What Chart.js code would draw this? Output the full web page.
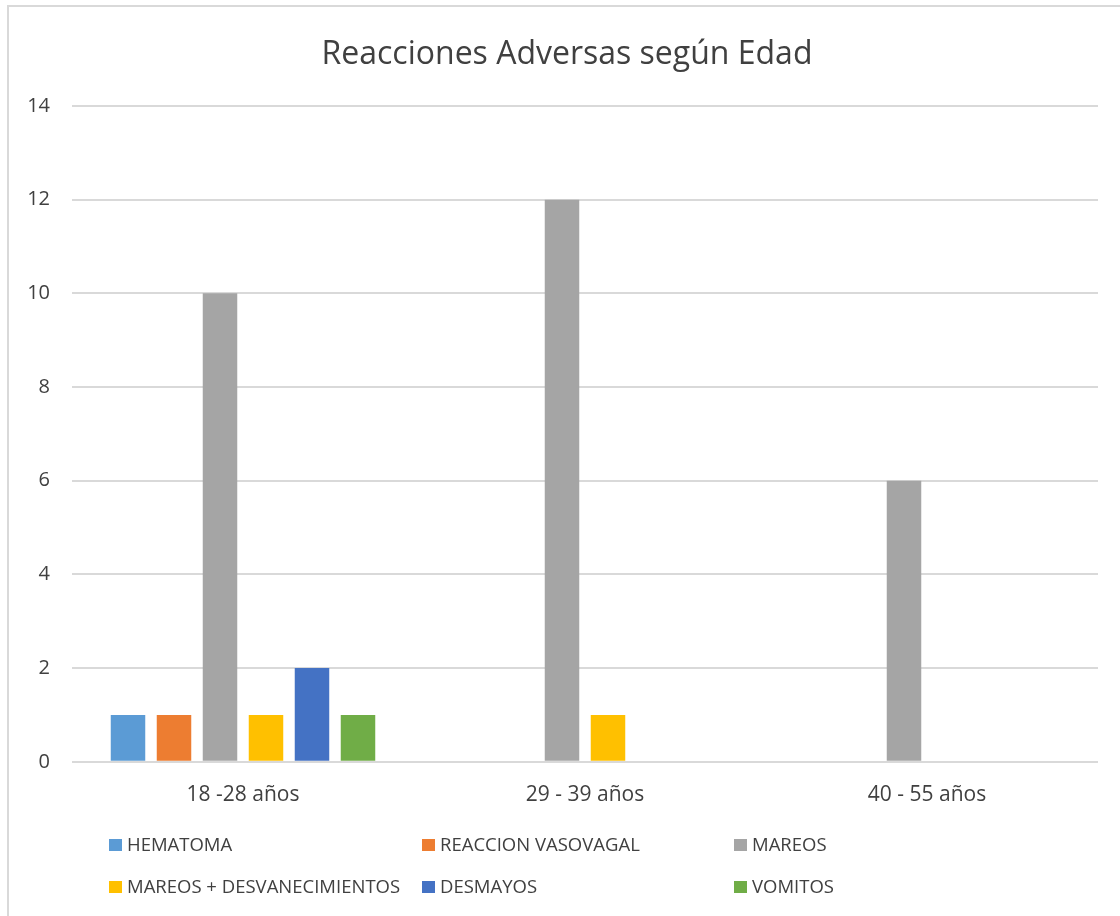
<!DOCTYPE html>
<html>
<head>
<meta charset="utf-8">
<title>Reacciones Adversas según Edad</title>
<script src="https://cdn.jsdelivr.net/npm/chart.js@4.4.1/dist/chart.umd.min.js"></script>
<style>
  html, body { margin: 0; padding: 0; background: #ffffff; overflow: hidden; }
  #frame {
    position: absolute; left: 7px; top: 5px;
    width: 1200px; height: 1000px;
    border: 2px solid #d9d9d9; box-sizing: border-box;
  }
  #chart { position: absolute; left: 0; top: 0; }
</style>
</head>
<body>
<div id="frame"></div>
<canvas id="chart" width="1120" height="916"></canvas>
<script>
// Age groups on the x axis
const categories = ['18 -28 años', '29 - 39 años', '40 - 55 años'];

// Number of adverse reactions per age group
const hematoma          = [1, 0, 0];
const reaccionVasovagal = [1, 0, 0];
const mareos            = [10, 12, 6];
const mareosDesvanec    = [1, 1, 0];
const desmayos          = [2, 0, 0];
const vomitos           = [1, 0, 0];

const seriesLabels = ['HEMATOMA', 'REACCION VASOVAGAL', 'MAREOS',
                      'MAREOS + DESVANECIMIENTOS', 'DESMAYOS', 'VOMITOS'];
const seriesValues = [hematoma, reaccionVasovagal, mareos, mareosDesvanec, desmayos, vomitos];
const seriesColors = ['#5B9BD5', '#ED7D31', '#A5A5A5', '#FFC000', '#4472C4', '#70AD47'];

const chartTitle = 'Reacciones Adversas según Edad';

// Y axis range
const yMin = 0, yMax = 14, yStep = 2;

const FONT = "'Open Sans', 'Noto Sans', sans-serif";
const TEXT = '#404040';

// Title centred over the chart frame rather than the plot
const frameTitle = {
  id: 'frameTitle',
  afterDraw(chart) {
    const ctx = chart.ctx;
    ctx.save();
    ctx.font = '32px ' + FONT;
    ctx.fillStyle = TEXT;
    ctx.textAlign = 'center';
    ctx.textBaseline = 'middle';
    ctx.fillText(chartTitle, 567, 55);
    ctx.restore();
  }
};

// Legend laid out as a 3-column grid under the axis
const gridLegend = {
  id: 'gridLegend',
  afterDraw(chart) {
    const ctx = chart.ctx;
    const colX = [109, 422, 734];
    const rowY = [845, 887];
    ctx.save();
    ctx.font = '18.5px ' + FONT;
    ctx.textBaseline = 'middle';
    ctx.textAlign = 'left';
    chart.data.datasets.forEach((ds, i) => {
      const x = colX[i % 3];
      const y = rowY[Math.floor(i / 3)];
      ctx.fillStyle = ds.backgroundColor;
      ctx.fillRect(x, y - 6, 13, 12);
      ctx.fillStyle = TEXT;
      ctx.fillText(ds.label, x + 18, y + 1);
    });
    ctx.restore();
  }
};

new Chart(document.getElementById('chart'), {
  type: 'bar',
  data: {
    labels: categories,
    datasets: seriesLabels.map((label, i) => ({
      label: label,
      data: seriesValues[i],
      backgroundColor: seriesColors[i],
      borderWidth: 0,
      categoryPercentage: 0.807,
      barPercentage: 0.75
    }))
  },
  options: {
    responsive: false,
    animation: false,
    devicePixelRatio: 1,
    layout: { padding: { left: 0, right: 22, top: 106, bottom: 87 } },
    plugins: {
      legend: { display: false },
      tooltip: { enabled: false },
      title: { display: false }
    },
    scales: {
      x: {
        grid: { display: false, drawTicks: false },
        border: { display: false },
        ticks: {
          color: TEXT,
          font: { family: FONT, size: 21 },
          padding: 21
        }
      },
      y: {
        min: yMin,
        max: yMax,
        grid: { color: '#d9d9d9', lineWidth: 2, drawTicks: false },
        border: { display: false },
        ticks: {
          stepSize: yStep,
          color: TEXT,
          font: { family: FONT, size: 20 },
          padding: 22
        },
        afterFit(scale) { scale.width = 72; }
      }
    }
  },
  plugins: [frameTitle, gridLegend]
});
</script>
</body>
</html>
